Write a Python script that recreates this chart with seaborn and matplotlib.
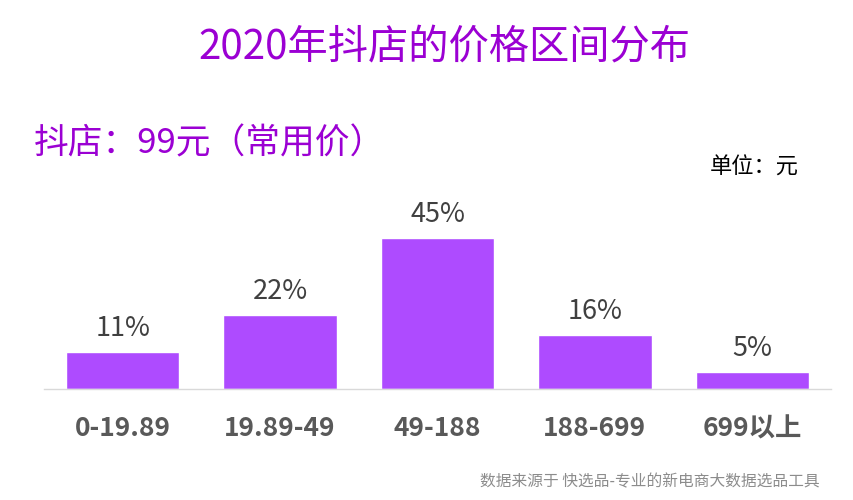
import matplotlib
matplotlib.use('Agg')
import matplotlib.pyplot as plt
import seaborn as sns
import pandas as pd

# 价格区间 & 占比
ranges = ['0-19.89', '19.89-49', '49-188', '188-699', '699以上']
shares = [11, 22, 45, 16, 5]

title = '2020年抖店的价格区间分布'
subtitle = '抖店：99元（常用价）'
unit = '单位：元'
source = '数据来源于 快选品-专业的新电商大数据选品工具'

sns.set_theme(style='white')
plt.rcParams['font.family'] = ['Noto Sans CJK SC', 'DejaVu Sans']

df = pd.DataFrame({'range': ranges, 'share': shares})

fig = plt.figure(figsize=(8.54, 5), dpi=100)
ax = fig.add_axes([0.0515, 0.222, 0.9215, 0.402])

sns.barplot(data=df, x='range', y='share', color='#AE4BFF', saturation=1,
            width=0.72, ax=ax)

for i, v in enumerate(shares):
    ax.text(i, v + 3, f'{v}%', ha='center', va='bottom', fontsize=19.5, color='#404040')

ax.set_xlim(-0.5, 4.5)
ax.set_ylim(0, 60)
ax.set_xlabel('')
ax.set_ylabel('')
ax.set_yticks([])
ax.tick_params(axis='x', length=0, pad=19)
for lbl in ax.get_xticklabels():
    lbl.set_fontsize(19)
    lbl.set_fontweight('bold')
    lbl.set_color('#595959')
for s in ['top', 'left', 'right']:
    ax.spines[s].set_visible(False)
ax.spines['bottom'].set_color('#D9D9D9')
ax.spines['bottom'].set_linewidth(1)

fig.text(0.52, 0.905, title, ha='center', va='center', fontsize=29, color='#9B00D3')
fig.text(0.040, 0.712, subtitle, ha='left', va='center', fontsize=25, color='#9B00D3')
fig.text(0.935, 0.665, unit, ha='right', va='center', fontsize=16, color='black')
fig.text(0.96, 0.036, source, ha='right', va='center', fontsize=11.3, color='#8C8C8C')

fig.savefig('out.png', dpi=100)
